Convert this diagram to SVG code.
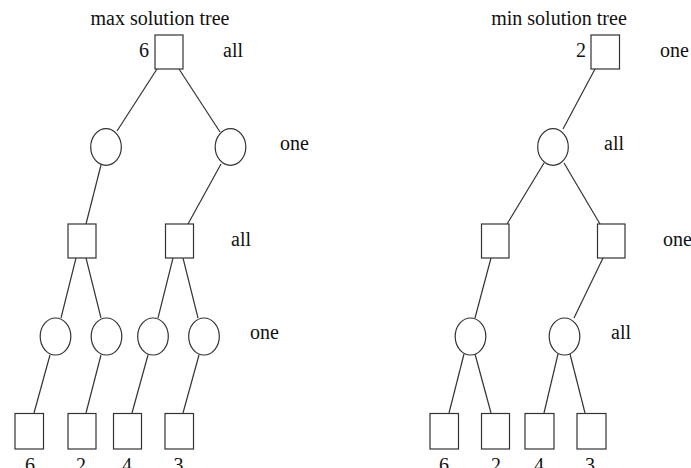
<svg xmlns="http://www.w3.org/2000/svg" width="691" height="468" viewBox="0 0 691 468" font-family="Liberation Serif, Times New Roman, serif">
<style>
.n{fill:#fff;stroke:#333;stroke-width:1.2}
.e{stroke:#333;stroke-width:1.2;fill:none}
.m{text-anchor:middle}
</style>
<rect width="691" height="468" fill="#fff"/>
<g font-family="Liberation Serif, Times New Roman, serif" font-size="20" fill="#111">
<text class="m" x="160" y="25">max solution tree</text>
<text class="m" x="559" y="25">min solution tree</text>
</g>
<g id="connectors">
<line class="e" x1="157" y1="69" x2="117" y2="131"/>
<line class="e" x1="179" y1="69" x2="220" y2="132"/>
<line class="e" x1="101" y1="165" x2="86" y2="224"/>
<line class="e" x1="221" y1="164" x2="188" y2="224"/>
<line class="e" x1="76" y1="258" x2="61" y2="318"/>
<line class="e" x1="86" y1="258" x2="101" y2="318"/>
<line class="e" x1="173" y1="258" x2="158" y2="318"/>
<line class="e" x1="183" y1="258" x2="198" y2="318"/>
<line class="e" x1="50" y1="355" x2="34" y2="413"/>
<line class="e" x1="101" y1="355" x2="86" y2="413"/>
<line class="e" x1="148" y1="355" x2="132" y2="413"/>
<line class="e" x1="199" y1="355" x2="183" y2="413"/>
<line class="e" x1="595" y1="69" x2="563" y2="129"/>
<line class="e" x1="544" y1="163" x2="507" y2="224"/>
<line class="e" x1="564" y1="163" x2="600" y2="224"/>
<line class="e" x1="491" y1="258" x2="475" y2="318"/>
<line class="e" x1="603" y1="258" x2="574" y2="318"/>
<line class="e" x1="464" y1="354" x2="449" y2="413"/>
<line class="e" x1="475" y1="354" x2="491" y2="413"/>
<line class="e" x1="558" y1="354" x2="544" y2="413"/>
<line class="e" x1="570" y1="354" x2="585" y2="413"/>
</g>
<g font-size="20" fill="#111">
<g id="max-root"><rect class="n" x="155" y="35" width="28" height="34"/><text class="m" x="144" y="57">6</text></g>
<g id="max-c1"><ellipse class="n" cx="106" cy="147" rx="15.3" ry="18.3"/></g>
<g id="max-c2"><ellipse class="n" cx="230.5" cy="147" rx="15.3" ry="18.3"/></g>
<g id="max-s1"><rect class="n" x="68" y="224" width="28" height="34"/></g>
<g id="max-s2"><rect class="n" x="165.5" y="224" width="28" height="34"/></g>
<g id="max-c3"><ellipse class="n" cx="55.5" cy="336.5" rx="15.3" ry="18.5"/></g>
<g id="max-c4"><ellipse class="n" cx="106.5" cy="336.5" rx="15.3" ry="18.5"/></g>
<g id="max-c5"><ellipse class="n" cx="153" cy="336.5" rx="15.3" ry="18.5"/></g>
<g id="max-c6"><ellipse class="n" cx="204" cy="336.5" rx="15.3" ry="18.5"/></g>
<g id="max-l1"><rect class="n" x="15" y="413.5" width="28.5" height="35.5"/><text class="m" x="30" y="472">6</text></g>
<g id="max-l2"><rect class="n" x="68" y="413.5" width="28" height="35.5"/><text class="m" x="81" y="472">2</text></g>
<g id="max-l3"><rect class="n" x="113.5" y="413.5" width="28" height="35.5"/><text class="m" x="127" y="472">4</text></g>
<g id="max-l4"><rect class="n" x="165" y="413.5" width="28.5" height="35.5"/><text class="m" x="178.5" y="472">3</text></g>
<g id="min-root"><rect class="n" x="591" y="35" width="28.5" height="34"/><text class="m" x="581" y="57">2</text></g>
<g id="min-c1"><ellipse class="n" cx="553" cy="147" rx="15.3" ry="18.3"/></g>
<g id="min-s1"><rect class="n" x="481.5" y="224" width="27.5" height="34"/></g>
<g id="min-s2"><rect class="n" x="597.5" y="224" width="27.5" height="34"/></g>
<g id="min-c2"><ellipse class="n" cx="470.5" cy="336.5" rx="15.3" ry="18.5"/></g>
<g id="min-c3"><ellipse class="n" cx="564.5" cy="336.5" rx="15.3" ry="18.5"/></g>
<g id="min-l1"><rect class="n" x="430" y="413.5" width="28.5" height="35.5"/><text class="m" x="444" y="472">6</text></g>
<g id="min-l2"><rect class="n" x="481.5" y="413.5" width="28" height="35.5"/><text class="m" x="496" y="472">2</text></g>
<g id="min-l3"><rect class="n" x="525" y="413.5" width="29" height="35.5"/><text class="m" x="539" y="472">4</text></g>
<g id="min-l4"><rect class="n" x="577" y="413.5" width="29" height="35.5"/><text class="m" x="590" y="472">3</text></g>
<g id="labels">
<text x="223" y="57">all</text>
<text x="280" y="150">one</text>
<text x="231" y="246">all</text>
<text x="250" y="339">one</text>
<text x="660" y="57">one</text>
<text x="604" y="150">all</text>
<text x="663" y="246">one</text>
<text x="611" y="339">all</text>
</g>
</g>
</svg>
